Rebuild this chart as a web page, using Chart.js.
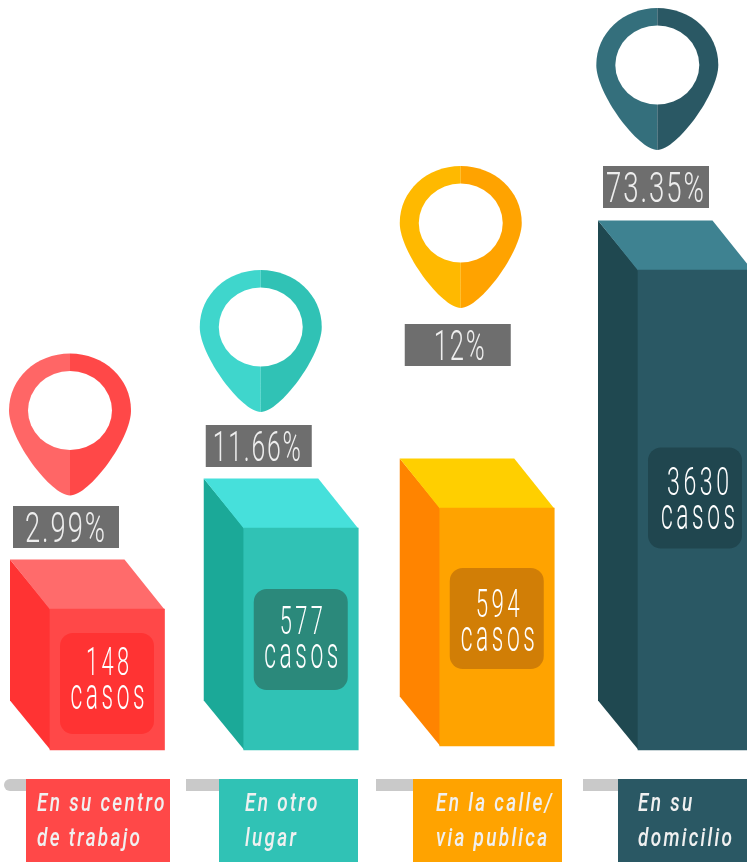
<!DOCTYPE html>
<html>
<head>
<meta charset="utf-8">
<script src="https://cdn.jsdelivr.net/npm/chart.js@4"></script>
<style>
html, body { margin: 0; padding: 0; background: #fff; overflow: hidden; }
canvas { display: block; }
</style>
</head>
<body>
<!-- the last bar runs past the window edge, so the canvas is wider than the page -->
<canvas id="chart" width="793" height="862"></canvas>
<script>
// values
const categories = [["En su centro", "de trabajo"], ["En otro", "lugar"], ["En la calle/", "via publica"], ["En su", "domicilio"]];
const casos = [148, 577, 594, 3630];
const percents = ["2.99%", "11.66%", "12%", "73.35%"];
// the drawn heights are not proportional to the cases, so they are kept apart
const barHeights = [141, 222, 242, 480];
const barBases = [0, 0, 4, 0];

const frontColors = ["#ff4848", "#30c2b5", "#ffa300", "#2a5864"];
const topColors = ["#ff6b6b", "#46e0db", "#ffcf00", "#3e8291"];
const sideColors = ["#ff3333", "#1ba998", "#ff8400", "#1f4850"];
const badgeColors = ["#ff3333", "#2b897b", "#d17e06", "#20464f"];
const pinLightColors = ["#ff6666", "#3fd6cc", "#ffb900", "#346f7c"];

// layout, relative to each bar
const nudgeX = [0.25, -2, -2, 0.25];
const badgeTop = [24, 61, 60, 177.5];
const textTop = [42, 45, 48.5, 47.5];
const textShift = [0.5, 0.5, 1, 3];
const numWidth = [43, 43, 44, 62];
const pctLeft = [-37, -38, -35, -35];
const pctTop = [-103, -103, -184, -104];
const pctMid = [52, 51, 54.5, 52];
const pctWidth = [80, 88, 51, 98];
const pinLeft = [20, 17, 21, 19.3];
const pinTop = [-255.5, -258, -342, -262];
const stripLeft = [4, 186, 376, 583];
const tagLeft = [26, 219, 413, 618];
const tagRight = [170, 358, 562, 793];
const tagTextLeft = [37, 245, 436, 638];

const depthX = 40, depthY = 49.5;

// o.width squeezes the text to that width, otherwise o.sx is used as it is
function squeezed(ctx, text, x, y, o) {
  ctx.save();
  ctx.font = (o.style || "") + " " + o.weight + " " + o.size + "px Roboto";
  ctx.letterSpacing = o.spacing + "px";
  ctx.fillStyle = o.color;
  ctx.textBaseline = "alphabetic";
  ctx.textAlign = o.align || "center";
  let sx = o.sx;
  if (o.width) {
    sx = o.width / (ctx.measureText(text).width - o.spacing);
    x += o.spacing * sx / 2;
  }
  ctx.translate(x, y);
  ctx.scale(sx, 1);
  ctx.fillText(text, 0, 0);
  ctx.restore();
}

function pinPath(ctx, cx, top, side) {
  ctx.beginPath();
  ctx.moveTo(cx, top);
  ctx.bezierCurveTo(cx + side * 34, top, cx + side * 61, top + 25, cx + side * 61, top + 57);
  ctx.bezierCurveTo(cx + side * 61, top + 86, cx + side * 19, top + 142, cx, top + 142);
  ctx.closePath();
}

const infographic = {
  id: "infographic",
  afterDatasetsUpdate(chart) {
    chart.getDatasetMeta(0).data.forEach((bar, i) => { bar.x += nudgeX[i]; });
  },
  // side and top faces sit behind the front face that the bar element paints
  beforeDatasetsDraw(chart) {
    const ctx = chart.ctx;
    chart.getDatasetMeta(0).data.forEach((bar, i) => {
      const l = bar.x - bar.width / 2, r = bar.x + bar.width / 2;
      ctx.fillStyle = sideColors[i];
      ctx.beginPath();
      ctx.moveTo(l + 0.5, bar.y);
      ctx.lineTo(l - depthX, bar.y - depthY);
      ctx.lineTo(l - depthX, bar.base - depthY);
      ctx.lineTo(l + 0.5, bar.base);
      ctx.closePath();
      ctx.fill();
      ctx.fillStyle = topColors[i];
      ctx.beginPath();
      ctx.moveTo(l, bar.y + 0.5);
      ctx.lineTo(l - depthX, bar.y - depthY);
      ctx.lineTo(r - depthX, bar.y - depthY);
      ctx.lineTo(r, bar.y + 0.5);
      ctx.closePath();
      ctx.fill();
    });
  },
  afterDatasetsDraw(chart) {
    const ctx = chart.ctx;
    chart.getDatasetMeta(0).data.forEach((bar, i) => {
      const l = bar.x - bar.width / 2;
      // badge with the number of cases
      const bx = l + 10, by = bar.y + badgeTop[i];
      ctx.fillStyle = badgeColors[i];
      ctx.beginPath();
      ctx.roundRect(bx, by, 94, 101, 13);
      ctx.fill();
      const mid = bx + 47 + textShift[i];
      squeezed(ctx, String(casos[i]), mid, by + textTop[i], { weight: 300, size: 39, width: numWidth[i], spacing: 6, color: "#fff" });
      squeezed(ctx, "casos", mid, by + textTop[i] + 34, { weight: 300, size: 45, width: 74, spacing: 7, color: "#fff" });

      // percent box
      const px = l + pctLeft[i], py = bar.y + pctTop[i];
      ctx.fillStyle = "#6e6e6e";
      ctx.fillRect(px, py, 106, 42);
      squeezed(ctx, percents[i], px + pctMid[i], py + 36, { weight: 300, size: 42, width: pctWidth[i], spacing: 3, color: "#eee" });

      // pin, two tones split down the middle
      const cx = l + pinLeft[i], top = bar.y + pinTop[i];
      ctx.fillStyle = pinLightColors[i];
      pinPath(ctx, cx, top, -1);
      ctx.fill();
      ctx.fillStyle = frontColors[i];
      pinPath(ctx, cx, top, 1);
      ctx.fill();
      ctx.fillStyle = "#fff";
      ctx.beginPath();
      ctx.ellipse(cx, top + 57, 42, 39.5, 0, 0, Math.PI * 2);
      ctx.fill();

      // category tag at the bottom
      ctx.fillStyle = "#c9c9c9";
      ctx.beginPath();
      if (i === 0) ctx.roundRect(stripLeft[i], 779, tagLeft[i] - stripLeft[i] + 2, 12, [6, 0, 0, 6]);
      else ctx.rect(stripLeft[i], 779, tagLeft[i] - stripLeft[i] + 2, 12);
      ctx.fill();
      ctx.fillStyle = frontColors[i];
      ctx.fillRect(tagLeft[i], 779, tagRight[i] - tagLeft[i], 83);
      categories[i].forEach((line, k) => {
        squeezed(ctx, line, tagTextLeft[i], 811 + k * 35, { style: "italic", weight: 500, size: 25, sx: 0.76, spacing: 3, color: "#f0f0f0", align: "left" });
      });
    });
  }
};

new Chart(document.getElementById("chart"), {
  type: "bar",
  data: {
    labels: categories.map(c => c.join(" ")),
    datasets: [{
      label: "casos",
      data: barHeights.map((h, i) => [barBases[i], h]),
      backgroundColor: frontColors,
      borderWidth: 0,
      barThickness: 114.5,
      clip: false
    }]
  },
  options: {
    responsive: false,
    animation: false,
    layout: { padding: { left: 9, right: 0, top: 0, bottom: 0 } },
    plugins: { legend: { display: false }, tooltip: { enabled: false } },
    scales: {
      x: { type: "category", display: false },
      y: { type: "linear", display: false, min: -112, max: 750 }
    }
  },
  plugins: [infographic]
});
</script>
</body>
</html>
